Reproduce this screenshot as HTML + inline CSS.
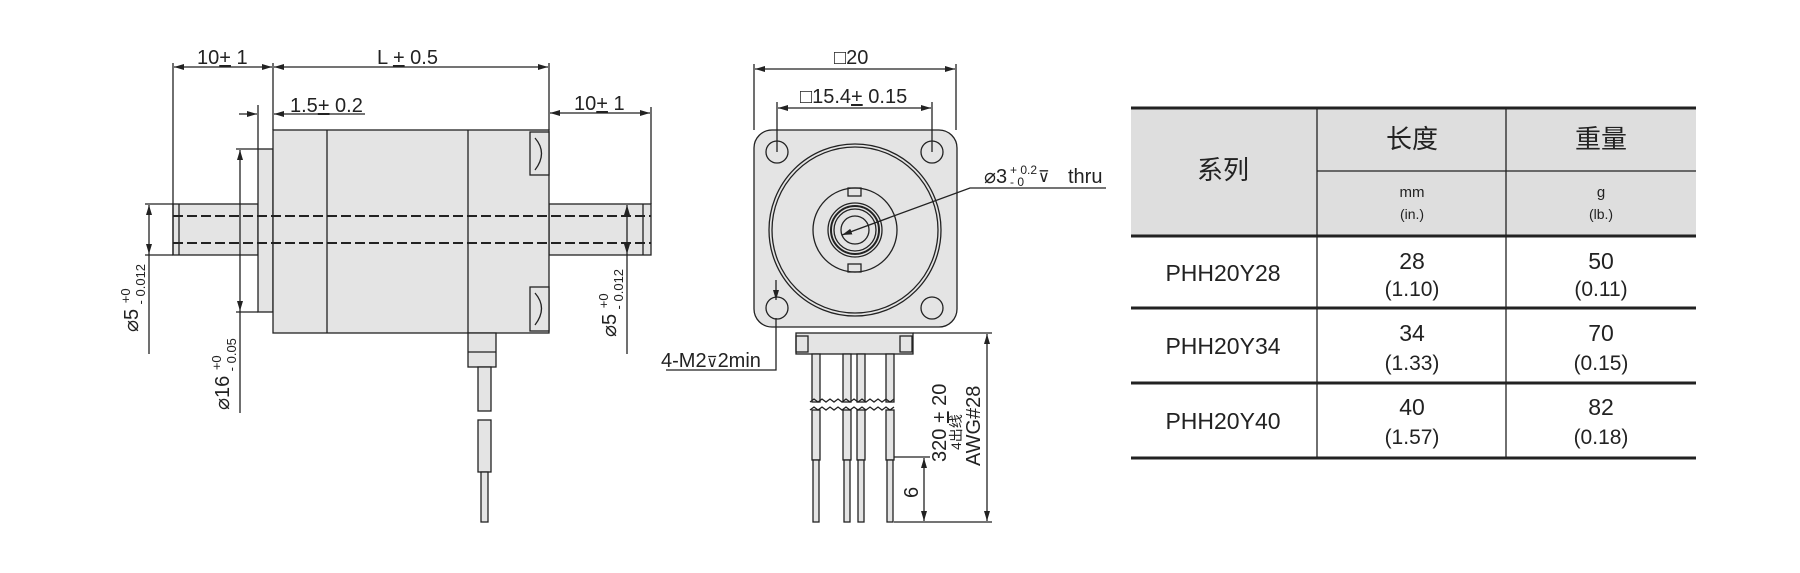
<!DOCTYPE html>
<html><head><meta charset="utf-8"><style>
html,body{margin:0;padding:0;background:#fff;}
svg{display:block;}
text{font-family:"Liberation Sans","Noto Sans CJK SC",sans-serif;fill:#222;}
</style></head><body>
<svg width="1800" height="573" viewBox="0 0 1800 573" xmlns="http://www.w3.org/2000/svg">
<defs>
<marker id="a" viewBox="0 0 10 6" refX="10" refY="3" markerWidth="10" markerHeight="6" orient="auto-start-reverse" markerUnits="userSpaceOnUse"><path d="M0,0L10,3L0,6z" fill="#222"/></marker>
</defs>
<g stroke="#222" stroke-width="1.3" fill="none">
<rect x="173" y="204" width="85" height="51" fill="#e4e4e4"/>
<rect x="549" y="204" width="102" height="51" fill="#e4e4e4"/>
<line x1="179" y1="204" x2="179" y2="255"/><line x1="643" y1="204" x2="643" y2="255"/>
<rect x="258" y="149" width="15" height="163" fill="#e4e4e4"/>
<rect x="273" y="130" width="276" height="203" fill="#e4e4e4"/>
<line x1="327" y1="130" x2="327" y2="333"/><line x1="468" y1="130" x2="468" y2="333"/>
<rect x="530" y="132" width="19" height="43" fill="#e4e4e4"/>
<rect x="530" y="287" width="19" height="44" fill="#e4e4e4"/>
<path d="M535,138 Q548,153 535,170 M535,293 Q548,308 535,325"/>
<line x1="173" y1="216" x2="651" y2="216" stroke-dasharray="10,4" stroke-width="2"/>
<line x1="173" y1="243" x2="651" y2="243" stroke-dasharray="10,4" stroke-width="2"/>
<rect x="468" y="333" width="28" height="34" fill="#e4e4e4"/>
<line x1="468" y1="352" x2="496" y2="352"/>
<rect x="478" y="367" width="13" height="44" fill="#e4e4e4"/>
<rect x="478" y="420" width="13" height="52" fill="#e4e4e4"/>
<rect x="481" y="472" width="7" height="50" fill="#e4e4e4"/>
<line x1="173" y1="63" x2="173" y2="255"/>
<line x1="273" y1="63" x2="273" y2="130"/>
<line x1="549" y1="63" x2="549" y2="130"/>
<line x1="174" y1="67" x2="272" y2="67" marker-start="url(#a)" marker-end="url(#a)"/>
<line x1="274" y1="67" x2="548" y2="67" marker-start="url(#a)" marker-end="url(#a)"/>
<line x1="258" y1="105" x2="258" y2="149"/>
<line x1="239" y1="114" x2="257" y2="114" marker-end="url(#a)"/>
<line x1="274" y1="114" x2="365" y2="114" marker-start="url(#a)"/>
<line x1="651" y1="107" x2="651" y2="204"/>
<line x1="550" y1="113" x2="650" y2="113" marker-start="url(#a)" marker-end="url(#a)"/>
<line x1="236" y1="149" x2="258" y2="149"/><line x1="236" y1="312" x2="258" y2="312"/>
<line x1="240" y1="150" x2="240" y2="311" marker-start="url(#a)" marker-end="url(#a)"/>
<line x1="240" y1="311" x2="240" y2="413"/>
<line x1="145" y1="204" x2="173" y2="204"/><line x1="145" y1="255" x2="173" y2="255"/>
<line x1="149" y1="205" x2="149" y2="254" marker-start="url(#a)" marker-end="url(#a)"/>
<line x1="149" y1="254" x2="149" y2="354"/>
<line x1="627" y1="205" x2="627" y2="254" marker-start="url(#a)" marker-end="url(#a)"/>
<line x1="627" y1="254" x2="627" y2="354"/>

<rect x="754" y="130" width="203" height="197" rx="18" fill="#e4e4e4"/>
<circle cx="855" cy="230" r="86"/><circle cx="855" cy="230" r="83"/>
<circle cx="855" cy="230" r="42"/>
<circle cx="855" cy="230" r="27"/><circle cx="855" cy="230" r="24" stroke-width="2"/><circle cx="855" cy="230" r="21"/>
<circle cx="855" cy="230" r="14"/>
<rect x="848" y="188" width="13" height="8"/><rect x="848" y="264" width="13" height="8"/>
<circle cx="777" cy="152" r="11"/><circle cx="932" cy="152" r="11"/>
<circle cx="777" cy="308" r="11"/><circle cx="932" cy="308" r="11"/>
<line x1="754" y1="64" x2="754" y2="130"/><line x1="956" y1="64" x2="956" y2="130"/>
<line x1="755" y1="69" x2="955" y2="69" marker-start="url(#a)" marker-end="url(#a)"/>
<line x1="777" y1="102" x2="777" y2="152"/><line x1="932" y1="102" x2="932" y2="152"/>
<line x1="778" y1="108" x2="931" y2="108" marker-start="url(#a)" marker-end="url(#a)"/>
<polyline points="1106,188 970,188 842,235" marker-end="url(#a)"/>
<line x1="776" y1="280" x2="776" y2="300" marker-end="url(#a)"/>
<polyline points="776,318 776,370 666,370"/>
<rect x="796" y="333" width="117" height="21" fill="#e4e4e4"/>
<rect x="796" y="336" width="12" height="16"/><rect x="900" y="336" width="12" height="16"/>
<g fill="#e4e4e4">
<rect x="812" y="354" width="8" height="48"/><rect x="843" y="354" width="8" height="48"/><rect x="857" y="354" width="8" height="48"/><rect x="886" y="354" width="8" height="48"/>
<rect x="812" y="410" width="8" height="50"/><rect x="843" y="410" width="8" height="50"/><rect x="857" y="410" width="8" height="50"/><rect x="886" y="410" width="8" height="50"/>
<rect x="813" y="460" width="6" height="62"/><rect x="844" y="460" width="6" height="62"/><rect x="858" y="460" width="6" height="62"/><rect x="887" y="460" width="6" height="62"/>
</g>
<path d="M810,402 l4,-3 4,3 4,-3 4,3 4,-3 4,3 4,-3 4,3 4,-3 4,3 4,-3 4,3 4,-3 4,3 4,-3 4,3 4,-3 4,3 4,-3 4,3 4,-3"/>
<path d="M810,410 l4,-3 4,3 4,-3 4,3 4,-3 4,3 4,-3 4,3 4,-3 4,3 4,-3 4,3 4,-3 4,3 4,-3 4,3 4,-3 4,3 4,-3 4,3 4,-3"/>
<line x1="913" y1="333" x2="992" y2="333"/>
<line x1="894" y1="522" x2="992" y2="522"/>
<line x1="894" y1="457" x2="930" y2="457"/>
<line x1="987" y1="334" x2="987" y2="521" marker-start="url(#a)" marker-end="url(#a)"/>
<line x1="924" y1="458" x2="924" y2="521" marker-start="url(#a)" marker-end="url(#a)"/>

<rect x="1131" y="108" width="565" height="128" fill="#dedede" stroke="none"/>
<line x1="1131" y1="108" x2="1696" y2="108" stroke-width="3"/>
<line x1="1317" y1="171" x2="1696" y2="171"/>
<line x1="1131" y1="236" x2="1696" y2="236" stroke-width="3"/>
<line x1="1131" y1="308" x2="1696" y2="308" stroke-width="3"/>
<line x1="1131" y1="383" x2="1696" y2="383" stroke-width="3"/>
<line x1="1131" y1="458" x2="1696" y2="458" stroke-width="3"/>
<line x1="1317" y1="108" x2="1317" y2="458"/>
<line x1="1506" y1="108" x2="1506" y2="458"/>
</g>

<g font-size="20">
<text x="197" y="64">10<tspan text-decoration="underline">+</tspan> 1</text>
<text x="377" y="64">L <tspan text-decoration="underline">+</tspan> 0.5</text>
<text x="290" y="112">1.5<tspan text-decoration="underline">+</tspan> 0.2</text>
<text x="574" y="110">10<tspan text-decoration="underline">+</tspan> 1</text>
<text transform="translate(138,332) rotate(-90)">⌀5 <tspan font-size="13" dy="-8">+0</tspan><tspan font-size="13" dx="-16" dy="15">- 0.012</tspan></text>
<text transform="translate(229,410) rotate(-90)">⌀16 <tspan font-size="13" dy="-8">+0</tspan><tspan font-size="13" dx="-16" dy="15">- 0.05</tspan></text>
<text transform="translate(616,337) rotate(-90)">⌀5 <tspan font-size="13" dy="-8">+0</tspan><tspan font-size="13" dx="-16" dy="15">- 0.012</tspan></text>
<text x="834" y="64">□20</text>
<text x="800" y="103">□15.4<tspan text-decoration="underline">+</tspan> 0.15</text>
<text x="984" y="183">⌀3</text>
<text x="1010" y="174" font-size="12">+ 0.2</text>
<text x="1010" y="186" font-size="12">-   0</text>
<text x="1038" y="182" font-size="16">⊽</text>
<text x="1068" y="183">thru</text>
<text x="661" y="367">4-M2<tspan font-size="15">⊽</tspan>2min</text>
<text transform="translate(946,462) rotate(-90)">320 <tspan text-decoration="underline">+</tspan> 20</text>
<text transform="translate(961,450) rotate(-90)" font-size="14">4出线</text>
<text transform="translate(980,466) rotate(-90)">AWG#28</text>
<text transform="translate(918,498) rotate(-90)">6</text>
</g>

<g text-anchor="middle">
<text x="1223" y="179" font-size="26">系列</text>
<text x="1412" y="148" font-size="26">长度</text>
<text x="1601" y="148" font-size="26">重量</text>
<text x="1412" y="197" font-size="15">mm</text>
<text x="1412" y="219" font-size="14">(in.)</text>
<text x="1601" y="197" font-size="15">g</text>
<text x="1601" y="219" font-size="14">(lb.)</text>
<g font-size="23">
<text x="1223" y="281">PHH20Y28</text>
<text x="1223" y="354">PHH20Y34</text>
<text x="1223" y="429">PHH20Y40</text>
<text x="1412" y="269">28</text><text x="1412" y="296" font-size="21">(1.10)</text>
<text x="1412" y="341">34</text><text x="1412" y="370" font-size="21">(1.33)</text>
<text x="1412" y="415">40</text><text x="1412" y="444" font-size="21">(1.57)</text>
<text x="1601" y="269">50</text><text x="1601" y="296" font-size="21">(0.11)</text>
<text x="1601" y="341">70</text><text x="1601" y="370" font-size="21">(0.15)</text>
<text x="1601" y="415">82</text><text x="1601" y="444" font-size="21">(0.18)</text>
</g>
</g>
</svg>
</body></html>
